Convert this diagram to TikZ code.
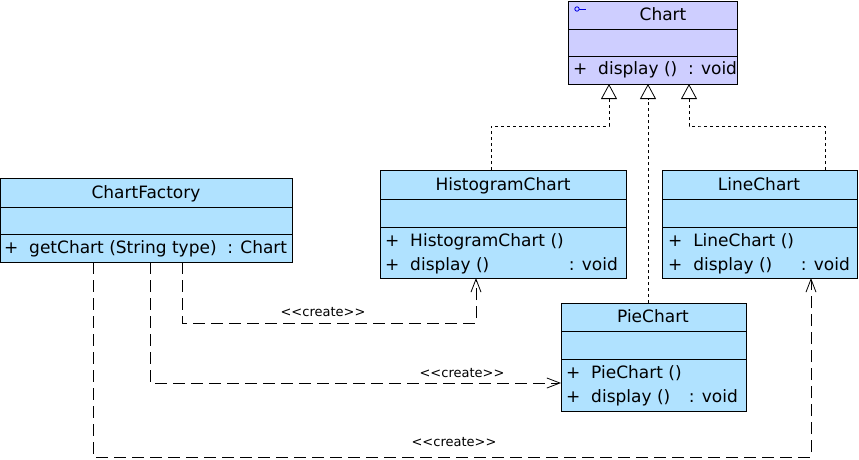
\documentclass[tikz,border=0pt]{standalone}
\usepackage{fontspec}
\setmainfont{DejaVu Sans}
\usetikzlibrary{arrows.meta}
\definecolor{chartc}{RGB}{206,206,255}
\definecolor{clsc}{RGB}{176,226,255}
\definecolor{icon}{RGB}{0,0,230}
\tikzset{
  cls/.style={draw=black, line width=0.9pt, fill=clsc, inner sep=0pt, anchor=north west},
  sep/.style={draw=black, line width=0.9pt},
  hdr/.style={font=\fontsize{17}{20}\selectfont, inner sep=0pt, anchor=base},
  mth/.style={font=\fontsize{17}{20}\selectfont, inner sep=0pt, anchor=base west},
  rtp/.style={font=\fontsize{17}{20}\selectfont, inner sep=0pt, anchor=base east},
  gen/.style={draw=black, line width=0.8pt, dash pattern=on 3pt off 3pt,
    -{Triangle[open,length=15pt,width=16pt,fill=white,line width=0.8pt]}},
  dep/.style={draw=black, line width=0.8pt, dash pattern=on 12pt off 6pt,
    -{Straight Barb[length=13pt,width=10pt,line width=0.8pt]}},
  lbl/.style={font=\fontsize{13}{15}\selectfont, inner sep=0pt, anchor=base}
}
\newcommand{\crlbl}{{<}{<}create{>}{>}}
\begin{document}
\begin{tikzpicture}[x=1pt,y=-1pt]
\useasboundingbox (0,0) rectangle (859,459);

% Chart
\node[cls, fill=chartc, minimum width=169, minimum height=83] (chart) at (568,1) {};
\draw[sep] (568,29) -- (737,29);
\draw[sep] (568,56) -- (737,56);
\node[hdr] (chartT) at (663,20) {Chart};
\node[mth] (chartM) at (573,74) {+\ \ display () \ : void};
\draw[icon, line width=0.8pt] (577,9) circle (2.2);
\draw[icon, line width=0.8pt] (579.2,9) -- (586,9);

% ChartFactory
\node[cls, minimum width=292, minimum height=84] (cf) at (0,178) {};
\draw[sep] (0,207) -- (292,207);
\draw[sep] (0,234) -- (292,234);
\node[hdr] (cfT) at (146,198) {ChartFactory};
\node[mth] (cfM) at (4,253) {+\ \ getChart (String type) \ : Chart};

% HistogramChart
\node[cls, minimum width=246, minimum height=108] (hist) at (380,170) {};
\draw[sep] (380,199) -- (626,199);
\draw[sep] (380,227) -- (626,227);
\node[hdr] (histT) at (503,190) {HistogramChart};
\node[mth] (histM1) at (385,246) {+\ \ HistogramChart ()};
\node[mth] (histM2) at (385,270) {+\ \ display ()};
\node[rtp] (histR) at (618,270) {: void};

% LineChart
\node[cls, minimum width=195, minimum height=108] (line) at (662,170) {};
\draw[sep] (662,199) -- (857,199);
\draw[sep] (662,227) -- (857,227);
\node[hdr] (lineT) at (759,190) {LineChart};
\node[mth] (lineM1) at (668,246) {+\ \ LineChart ()};
\node[mth] (lineM2) at (668,270) {+\ \ display ()};
\node[rtp] (lineR) at (850,270) {: void};

% PieChart
\node[cls, minimum width=185, minimum height=108] (pie) at (561,303) {};
\draw[sep] (561,331) -- (746,331);
\draw[sep] (561,359) -- (746,359);
\node[hdr] (pieT) at (653,322) {PieChart};
\node[mth] (pieM1) at (566,378) {+\ \ PieChart ()};
\node[mth] (pieM2) at (566,402) {+\ \ display ()};
\node[rtp] (pieR) at (738,402) {: void};

% generalization connectors
\coordinate (gh) at (491,170);
\coordinate (gl) at (825,170);
\coordinate (gp) at (648,303);
\coordinate (th) at (609,84);
\coordinate (tp) at (648,84);
\coordinate (tl) at (689,84);
\draw[gen] (gh) |- (600,126) -| (th);
\draw[gen] (gl) |- (700,126) -| (tl);
\draw[gen] (gp) -- (tp);

% dependency connectors
\coordinate (s1) at (182,262);
\coordinate (s2) at (150,262);
\coordinate (s3) at (93,262);
\coordinate (e1) at (476,278);
\coordinate (e2) at (561,383);
\coordinate (e3) at (811,278);
\draw[dep] (s1) |- (300,323) -| (e1);
\draw[dep] (s2) |- (e2);
\draw[dep] (s3) |- (500,457) -| (e3);
\node[lbl] (l1) at (323,316) {\crlbl};
\node[lbl] (l2) at (462,377) {\crlbl};
\node[lbl] (l3) at (454,446) {\crlbl};
\end{tikzpicture}
\end{document}
